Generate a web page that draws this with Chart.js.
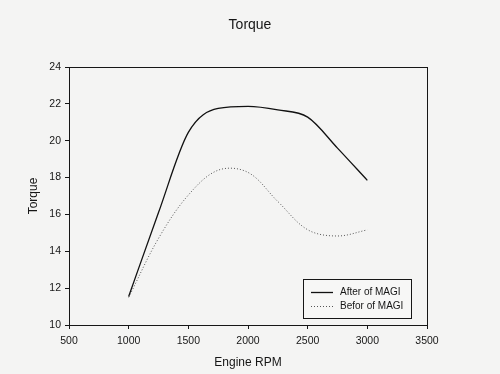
<!DOCTYPE html>
<html>
<head>
<meta charset="utf-8">
<script src="https://cdn.jsdelivr.net/npm/chart.js@4/dist/chart.umd.min.js"></script>
<style>
  html, body { margin: 0; padding: 0; background: #f4f4f3; }
  #wrap { width: 500px; height: 374px; }
</style>
</head>
<body>
<div id="wrap"><canvas id="torque"></canvas></div>
<script>
var rpm = [1000, 1250, 1500, 1750, 2000, 2250, 2500, 2750, 3000];
var afterMagi = [11.55, 16.1, 20.45, 21.75, 21.86, 21.67, 21.28, 19.6, 17.85];
var beforeMagi = [11.5, 14.7, 17.05, 18.4, 18.28, 16.7, 15.17, 14.83, 15.16];
var xTicks = [500, 1000, 1500, 2000, 2500, 3000, 3500];
var yTicks = [10, 12, 14, 16, 18, 20, 22, 24];

var FONT = 'Liberation Sans, Arial, sans-serif';
var INK = '#161616';

function toPoints(ys) {
    return rpm.map(function(x, i) { return { x: x, y: ys[i] }; });
}

// background, title, box frame and legend inside the plot area
var framePlugin = {
    id: 'frame',
    beforeDraw: function(chart) {
        var c = chart.ctx;
        c.save();
        c.fillStyle = '#f4f4f3';
        c.fillRect(0, 0, chart.width, chart.height);
        c.restore();
    },
    afterDraw: function(chart) {
        var c = chart.ctx, a = chart.chartArea;
        c.save();
        c.fillStyle = INK;
        c.font = '14px ' + FONT;
        c.textAlign = 'center';
        c.textBaseline = 'middle';
        c.fillText('Torque', 250, 25);

        c.strokeStyle = INK;
        c.lineWidth = 1;
        c.strokeRect(Math.round(a.left) + 0.5, Math.round(a.top) + 0.5,
            Math.round(a.right - a.left), Math.round(a.bottom - a.top));

        // legend box
        var bx = 303.5, by = 279.5, bw = 108, bh = 39;
        c.fillStyle = '#f7f7f6';
        c.fillRect(bx, by, bw, bh);
        c.strokeRect(bx, by, bw, bh);
        c.font = '10px ' + FONT;
        c.textAlign = 'left';
        chart.data.datasets.forEach(function(ds, i) {
            var y = 292.5 + i * 14;
            c.beginPath();
            c.strokeStyle = ds.borderColor;
            c.lineWidth = ds.borderWidth;
            c.setLineDash(ds.borderDash || []);
            c.moveTo(311, y);
            c.lineTo(333, y);
            c.stroke();
            c.setLineDash([]);
            c.fillStyle = INK;
            c.fillText(ds.label, 340, y);
        });
        c.restore();
    }
};

new Chart(document.getElementById('torque'), {
    type: 'line',
    data: {
        datasets: [{
            label: 'After of MAGI',
            data: toPoints(afterMagi),
            borderColor: '#111111',
            borderWidth: 1.3,
            pointRadius: 0,
            cubicInterpolationMode: 'monotone',
            fill: false
        }, {
            label: 'Befor of MAGI',
            data: toPoints(beforeMagi),
            borderColor: '#555555',
            borderWidth: 1,
            borderDash: [1, 2],
            pointRadius: 0,
            tension: 0.35,
            fill: false
        }]
    },
    options: {
        responsive: true,
        maintainAspectRatio: false,
        animation: false,
        layout: { padding: { left: 0, right: 73, top: 67, bottom: 0 } },
        plugins: {
            legend: { display: false },
            tooltip: { enabled: false },
            title: { display: false }
        },
        scales: {
            x: {
                type: 'linear',
                min: 500,
                max: 3500,
                afterBuildTicks: function(s) { s.ticks = xTicks.map(function(v) { return { value: v }; }); },
                afterFit: function(s) { s.height = 49; },
                border: { display: true, color: INK, width: 1 },
                grid: { display: true, drawOnChartArea: false, drawTicks: true, tickLength: 4, color: INK },
                ticks: {
                    color: INK,
                    padding: 6,
                    maxRotation: 0,
                    font: { family: FONT, size: 10.5 },
                    callback: function(v) { return String(v); }
                },
                title: {
                    display: true,
                    text: 'Engine RPM',
                    color: INK,
                    font: { family: FONT, size: 12 },
                    padding: { top: 0, bottom: 4 }
                }
            },
            y: {
                min: 10,
                max: 24,
                afterBuildTicks: function(s) { s.ticks = yTicks.map(function(v) { return { value: v }; }); },
                afterFit: function(s) { s.width = 69; },
                border: { display: true, color: INK, width: 1 },
                grid: { display: true, drawOnChartArea: false, drawTicks: true, tickLength: 4, color: INK },
                ticks: { color: INK, padding: 4, font: { family: FONT, size: 10.5 } },
                title: {
                    display: true,
                    text: 'Torque',
                    color: INK,
                    font: { family: FONT, size: 12 },
                    padding: { top: 26, bottom: 0 }
                }
            }
        }
    },
    plugins: [framePlugin]
});
</script>
</body>
</html>
